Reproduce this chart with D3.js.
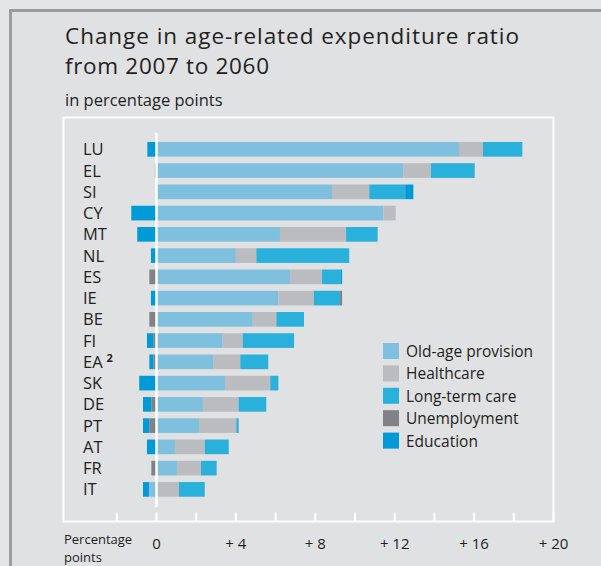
<!DOCTYPE html>
<html>
<head>
<meta charset="utf-8">
<script src="https://cdn.jsdelivr.net/npm/d3@7"></script>
<style>
  body { margin: 0; background: #e4e5e7; }
  text { font-family: "Open Sans", "Noto Sans", sans-serif; fill: #231f20; }
</style>
</head>
<body>
<div id="chart"></div>
<script>
// countries, top to bottom
var countries = ["LU", "EL", "SI", "CY", "MT", "NL", "ES", "IE", "BE", "FI", "EA", "SK", "DE", "PT", "AT", "FR", "IT"];

// change in expenditure ratio 2007-2060, percentage points
var oldAge       = [15.24, 12.43, 8.84, 11.43, 6.22, 4.00, 6.73, 6.14, 4.85, 3.33, 2.85, 3.45, 2.34, 2.14, 0.93, 1.03, -0.38];
var healthcare   = [1.21, 1.40, 1.88, 0.62, 3.33, 1.03, 1.61, 1.79, 1.19, 1.01, 1.37, 2.28, 1.80, 1.88, 1.50, 1.21, 1.13];
var longTermCare = [1.98, 2.20, 1.81, 0, 1.59, 4.68, 0.95, 1.31, 1.39, 2.59, 1.41, 0.41, 1.39, 0.12, 1.21, 0.79, 1.30];
var unemployment = [0, -0.08, 0, 0, 0, 0, -0.36, 0.11, -0.36, -0.16, -0.16, 0, -0.26, -0.36, 0, -0.26, 0];
var education    = [-0.46, 0, 0.41, -1.27, -0.97, -0.28, 0.06, -0.28, 0, -0.32, -0.20, -0.87, -0.42, -0.32, -0.48, 0, -0.30];

var seriesNames = ["Old-age provision", "Healthcare", "Long-term care", "Unemployment", "Education"];
var seriesColors = ["#7fc0df", "#bbbcc0", "#29b0db", "#808285", "#009ad6"];
var tickValues = [0, 4, 8, 12, 16, 20];

var svgWidth = 601, svgHeight = 566;

var svg = d3.select("#chart")
  .append("svg")
  .attr("width", svgWidth)
  .attr("height", svgHeight);

// panel with grey frame at top and left
svg.append("rect")
  .attr("x", 10.5).attr("y", 10.5)
  .attr("width", 620).attr("height", 600)
  .attr("fill", "#e0e1e3")
  .attr("stroke", "#9a9b9d")
  .attr("stroke-width", 3);

// titles
svg.append("text").attr("x", 65).attr("y", 44).attr("font-size", 22.5)
  .attr("textLength", 454).attr("lengthAdjust", "spacing")
  .text("Change in age-related expenditure ratio");
svg.append("text").attr("x", 65).attr("y", 74).attr("font-size", 22.5)
  .attr("textLength", 204).attr("lengthAdjust", "spacing")
  .text("from 2007 to 2060");
svg.append("text").attr("x", 65).attr("y", 106).attr("font-size", 16.5).text("in percentage points");

// plot box
var box = { left: 63.5, top: 117.5, right: 553.5, bottom: 521.5 };
svg.append("rect")
  .attr("x", box.left).attr("y", box.top)
  .attr("width", box.right - box.left).attr("height", box.bottom - box.top)
  .attr("fill", "none")
  .attr("stroke", "#ffffff")
  .attr("stroke-width", 2);

var x = d3.scaleLinear().domain([0, 20]).range([156.5, 553.5]);
var y = d3.scaleBand().domain(countries).range([138.7, 500]).paddingInner(0.31).paddingOuter(0.155);

// build rows for the stack
var rows = countries.map(function(c, i) {
  return {
    country: c,
    "Old-age provision": oldAge[i],
    "Healthcare": healthcare[i],
    "Long-term care": longTermCare[i],
    "Unemployment": unemployment[i],
    "Education": education[i]
  };
});

var stacked = d3.stack()
  .keys(seriesNames)
  .offset(d3.stackOffsetDiverging)(rows);

var barGroup = svg.append("g");
stacked.forEach(function(layer, k) {
  barGroup.selectAll(null)
    .data(layer)
    .enter()
    .append("rect")
    .attr("x", d => x(Math.min(d[0], d[1])))
    .attr("width", d => Math.abs(x(d[1]) - x(d[0])))
    .attr("y", d => y(d.data.country))
    .attr("height", y.bandwidth())
    .attr("fill", seriesColors[k]);
});

// zero line
svg.append("line")
  .attr("x1", x(0)).attr("x2", x(0))
  .attr("y1", 133).attr("y2", 507)
  .attr("stroke", "#ffffff")
  .attr("stroke-width", 2.5);

// country labels
var labels = svg.append("g").selectAll(null)
  .data(countries)
  .enter()
  .append("text")
  .attr("x", 83)
  .attr("y", d => y(d) + y.bandwidth() / 2 + 6)
  .attr("font-size", 16.5)
  .text(d => d);
labels.filter(d => d === "EA")
  .append("tspan")
  .attr("font-size", 11)
  .attr("dx", 4)
  .attr("dy", -6)
  .attr("font-weight", "bold")
  .text("2");

// axis ticks (every 2 points, pointing up from the box bottom)
var axisTicks = d3.range(-2, 21, 2);
svg.append("g").selectAll(null)
  .data(axisTicks)
  .enter()
  .append("line")
  .attr("x1", d => x(d)).attr("x2", d => x(d))
  .attr("y1", box.bottom - 9).attr("y2", box.bottom)
  .attr("stroke", "#ffffff")
  .attr("stroke-width", 2);

svg.append("g").selectAll(null)
  .data(tickValues)
  .enter()
  .append("text")
  .attr("x", d => x(d))
  .attr("y", 549)
  .attr("text-anchor", "middle")
  .attr("font-size", 15)
  .text(d => d === 0 ? "0" : "+ " + d);

svg.append("text").attr("x", 64).attr("y", 543.5).attr("font-size", 13).text("Percentage");
svg.append("text").attr("x", 64).attr("y", 561.5).attr("font-size", 13).text("points");

// legend
var legend = svg.append("g").attr("transform", "translate(383, 343)");
var legendItems = legend.selectAll(null)
  .data(seriesNames)
  .enter()
  .append("g")
  .attr("transform", (d, i) => `translate(0, ${i * 22.4})`);
legendItems.append("rect")
  .attr("width", 16).attr("height", 16)
  .attr("fill", (d, i) => seriesColors[i]);
legendItems.append("text")
  .attr("x", 23).attr("y", 14)
  .attr("font-size", 15.5)
  .text(d => d);
</script>
</body>
</html>
